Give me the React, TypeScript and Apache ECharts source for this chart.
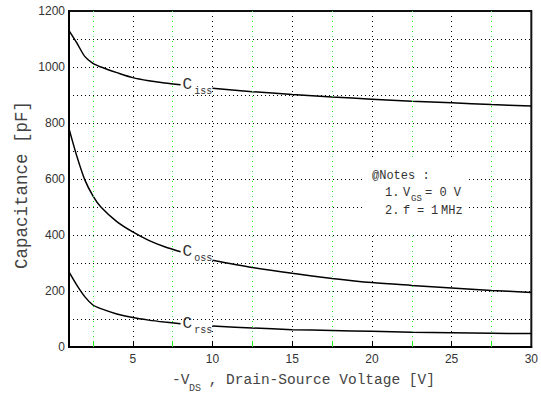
import React, { useEffect, useRef } from "react";
import * as echarts from "echarts";

// ---- data ----
const vdsLow = [1, 1.5, 2, 2.5, 3, 4, 5, 6, 7, 8];
const cissLow = [1130, 1085, 1037, 1013, 1000, 980, 962, 951, 943, 937];
const cossLow = [780, 680, 596, 540, 500, 448, 411, 381, 358, 340];
const crssLow = [268, 220, 179, 150, 137, 118, 105, 96, 89, 83];

const vdsHigh = [10, 12.5, 15, 17.5, 20, 22.5, 25, 27.5, 30];
const cissHigh = [924, 912, 902, 893, 885, 878, 872, 866, 861];
const cossHigh = [310, 284, 263, 245, 230, 220, 211, 202, 195];
const crssHigh = [75, 68, 62, 59, 56, 53, 51, 49, 48];

const xTickLabels = [5, 10, 15, 20, 25, 30];
const xMajorGrid = [5, 10, 15, 20, 25];
const xMinorGrid = [2.5, 7.5, 12.5, 17.5, 22.5, 27.5];

const curveNames = ["iss", "oss", "rss"];

const MONO = "'Liberation Mono', 'DejaVu Sans Mono', monospace";
const SANS = "'Liberation Sans', Arial, sans-serif";
const GREEN = "#22ee22";
const TXT = "#333";

const zip = (xs: number[], ys: number[]) => xs.map((x, i) => [x, ys[i]]);

export default function App() {
  const ref = useRef<HTMLDivElement>(null);

  useEffect(() => {
    if (!ref.current) return;
    const chart = echarts.init(ref.current, null, { renderer: "svg" });

    const lows = [cissLow, cossLow, crssLow];
    const highs = [cissHigh, cossHigh, crssHigh];

    const gridSeries = (values: number[], color: string) => ({
      type: "line",
      data: [],
      silent: true,
      z: 1,
      markLine: {
        silent: true,
        symbol: "none",
        animation: false,
        label: { show: false },
        lineStyle: { color, type: [1, 4], width: 1 },
        emphasis: { disabled: true },
        data: values.map((v) => ({ xAxis: v })),
      },
    });

    const series: any[] = [gridSeries(xMajorGrid, "#000"), gridSeries(xMinorGrid, GREEN)];
    lows.forEach((ys, i) => {
      series.push({
        type: "line",
        data: zip(vdsLow, ys),
        smooth: 0.3,
        showSymbol: false,
        z: 3,
        lineStyle: { color: "#000", width: 1.5 },
        endLabel: {
          show: true,
          distance: 2,
          formatter: "{c|C}{s|" + curveNames[i] + "}",
          rich: {
            c: { fontFamily: MONO, fontSize: 16, color: TXT },
            s: { fontFamily: MONO, fontSize: 10, color: TXT, padding: [14, 0, 0, 2] },
          },
        },
      });
    });
    highs.forEach((ys) => {
      series.push({
        type: "line",
        data: zip(vdsHigh, ys),
        smooth: 0.3,
        showSymbol: false,
        z: 3,
        lineStyle: { color: "#000", width: 1.5 },
      });
    });

    const noteText = (text: string, x: number, y: number, size: number) => ({
      type: "text",
      z: 101,
      x,
      y,
      style: { text, font: `${size}px ${MONO}`, fill: TXT, verticalAlign: "middle" },
    });

    const option: any = {
      animation: false,
      grid: {
        left: 69,
        right: 8,
        top: 11,
        bottom: 51,
        show: true,
        borderColor: "#111",
        borderWidth: 2,
      },
      xAxis: [
        {
          type: "value",
          min: 1,
          max: 30,
          axisLine: { show: true, onZero: false, lineStyle: { color: "#000", width: 2 } },
          axisTick: {
            show: true,
            inside: true,
            length: 5,
            customValues: xMajorGrid,
            lineStyle: { color: "#000" },
          },
          axisLabel: {
            customValues: xTickLabels,
            fontFamily: SANS,
            fontSize: 12,
            color: TXT,
            margin: 6,
          },
          splitLine: { show: false },
        },
        {
          type: "value",
          min: 1,
          max: 30,
          position: "bottom",
          axisLine: { show: false },
          axisTick: {
            show: true,
            inside: true,
            length: 5,
            customValues: xMinorGrid,
            lineStyle: { color: GREEN },
          },
          axisLabel: { show: false },
          splitLine: { show: false },
        },
      ],
      yAxis: {
        type: "value",
        min: 0,
        max: 1200,
        interval: 100,
        axisLine: { show: true, lineStyle: { color: "#000", width: 2 } },
        axisTick: { show: false },
        axisLabel: {
          formatter: (v: number) => (v % 200 === 0 ? String(v) : ""),
          fontFamily: SANS,
          fontSize: 12,
          color: TXT,
          margin: 4,
        },
        splitLine: { show: true, lineStyle: { color: "#000", type: [1, 3], width: 1 } },
      },
      series,
      graphic: [
        {
          type: "rect",
          z: 100,
          shape: { x: 362, y: 161, width: 106, height: 71 },
          style: { fill: "#fff" },
        },
        noteText("@Notes :", 372, 176, 12),
        noteText("1.", 385, 193, 12),
        noteText("V", 403, 193, 12),
        noteText("GS", 411, 199, 9),
        noteText("= 0 V", 425, 193, 12),
        noteText("2.", 385, 211, 12),
        noteText("f", 403, 211, 12),
        noteText("=", 417, 211, 12),
        noteText("1", 431, 211, 12),
        noteText("MHz", 441, 211, 12),
        {
          type: "text",
          x: 22,
          y: 185,
          rotation: Math.PI / 2,
          style: {
            text: "Capacitance [pF]",
            font: `17.5px ${MONO}`,
            fill: "#444",
            align: "center",
            verticalAlign: "middle",
          },
        },
        {
          type: "text",
          x: 172,
          y: 380,
          style: { text: "-V", font: `14.5px ${MONO}`, fill: "#444", verticalAlign: "middle" },
        },
        {
          type: "text",
          x: 189,
          y: 388,
          style: { text: "DS", font: `10px ${MONO}`, fill: "#444", verticalAlign: "middle" },
        },
        {
          type: "text",
          x: 200,
          y: 380,
          style: {
            text: " , Drain-Source Voltage [V]",
            font: `14.5px ${MONO}`,
            fill: "#444",
            verticalAlign: "middle",
          },
        },
      ],
    };

    chart.setOption(option);
    return () => chart.dispose();
  }, []);

  return (
    <div
      ref={ref}
      style={{ position: "absolute", left: 0, top: 0, width: 541, height: 398, background: "#fff" }}
    />
  );
}
